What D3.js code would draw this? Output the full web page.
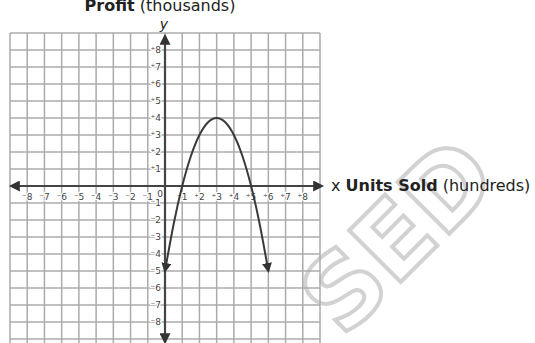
<!DOCTYPE html>
<html>
<head>
<meta charset="utf-8">
<script src="https://cdn.jsdelivr.net/npm/d3@7"></script>
<style>
  body { margin: 0; background: #fff; }
  svg { display: block; font-family: "DejaVu Sans", Verdana, sans-serif; }
</style>
</head>
<body>
<svg id="svg"></svg>
<script>
const width = 535;
const height = 343;

// grid runs -9..9 on both axes, labels -8..8
const gridRange = d3.range(-9, 10);
const xTicks = [-8, -7, -6, -5, -4, -3, -2, -1, 1, 2, 3, 4, 5, 6, 7, 8];
const yTicks = [-8, -7, -6, -5, -4, -3, -2, -1, 1, 2, 3, 4, 5, 6, 7, 8];

// points
const unitsSold = [0, 0.5, 1, 1.5, 2, 2.5, 3, 3.5, 4, 4.5, 5, 5.5, 6];
const profit = [-5, -2.25, 0, 1.75, 3, 3.75, 4, 3.75, 3, 1.75, 0, -2.25, -5];

const svg = d3.select("#svg")
    .attr("width", width)
    .attr("height", height)
    .attr("viewBox", [0, 0, width, height]);

const xScale = d3.scaleLinear().domain([-9, 9]).range([10, 320]);
const yScale = d3.scaleLinear().domain([-9, 9]).range([339, 33]);

const fmt = d => d < 0 ? "\u207B" + Math.abs(d) : "\u207A" + d;

svg.append("defs").append("marker")
    .attr("id", "arrow")
    .attr("viewBox", "0 0 10 10")
    .attr("refX", 8)
    .attr("refY", 5)
    .attr("markerWidth", 5)
    .attr("markerHeight", 5)
    .attr("orient", "auto-start-reverse")
    .append("path")
    .attr("d", "M0,0 L10,5 L0,10 z")
    .attr("fill", "#333");

// watermark
svg.append("text")
    .text("SED")
    .attr("transform", "translate(398,236) rotate(-45)")
    .attr("text-anchor", "middle")
    .attr("dominant-baseline", "central")
    .attr("font-size", "100px")
    .attr("font-weight", "bold")
    .attr("fill", "none")
    .attr("stroke", "#d2d2d2")
    .attr("stroke-width", 4);

// grid
const grid = svg.append("g")
    .attr("stroke", "#ababab")
    .attr("stroke-width", 1.5);

grid.selectAll(".vline")
    .data(gridRange)
    .enter()
    .append("line")
        .attr("class", "vline")
        .attr("x1", d => xScale(d))
        .attr("x2", d => xScale(d))
        .attr("y1", yScale(9))
        .attr("y2", height);

grid.selectAll(".hline")
    .data(gridRange)
    .enter()
    .append("line")
        .attr("class", "hline")
        .attr("x1", xScale(-9))
        .attr("x2", xScale(9))
        .attr("y1", d => yScale(d))
        .attr("y2", d => yScale(d));

// axes
svg.append("line")
    .attr("x1", xScale(-9) + 1)
    .attr("x2", xScale(9) + 2)
    .attr("y1", yScale(0))
    .attr("y2", yScale(0))
    .attr("stroke", "#444")
    .attr("stroke-width", 2.2)
    .attr("marker-start", "url(#arrow)")
    .attr("marker-end", "url(#arrow)");

svg.append("line")
    .attr("x1", xScale(0))
    .attr("x2", xScale(0))
    .attr("y1", yScale(9) + 3)
    .attr("y2", height - 1)
    .attr("stroke", "#444")
    .attr("stroke-width", 2.2)
    .attr("marker-start", "url(#arrow)")
    .attr("marker-end", "url(#arrow)");

// tick labels
svg.append("g")
    .selectAll("text")
    .data(xTicks)
    .enter()
    .append("text")
        .text(d => fmt(d))
        .attr("x", d => xScale(d))
        .attr("y", yScale(0) + 14)
        .attr("text-anchor", "middle")
        .attr("font-size", "9px")
        .attr("fill", "#444")
        .attr("stroke", "#fff")
        .attr("stroke-width", 2.5)
        .attr("paint-order", "stroke");

svg.append("g")
    .selectAll("text")
    .data(yTicks)
    .enter()
    .append("text")
        .text(d => fmt(d))
        .attr("x", xScale(0) - 4)
        .attr("y", d => yScale(d) + 3)
        .attr("text-anchor", "end")
        .attr("font-size", "9px")
        .attr("fill", "#444")
        .attr("stroke", "#fff")
        .attr("stroke-width", 2.5)
        .attr("paint-order", "stroke");

svg.append("text")
    .text("0")
    .attr("x", xScale(0) - 5)
    .attr("y", yScale(0) + 11)
    .attr("text-anchor", "middle")
    .attr("font-size", "9px")
    .attr("fill", "#444");

// the profit curve
const line = d3.line()
    .x(d => xScale(d[0]))
    .y(d => yScale(d[1]))
    .curve(d3.curveNatural);

svg.append("path")
    .datum(d3.zip(unitsSold, profit))
    .attr("d", line)
    .attr("fill", "none")
    .attr("stroke", "#3a3a3a")
    .attr("stroke-width", 2)
    .attr("marker-start", "url(#arrow)")
    .attr("marker-end", "url(#arrow)");

// axis titles
const title = svg.append("text")
    .attr("x", 160)
    .attr("y", 11)
    .attr("text-anchor", "middle")
    .attr("font-size", "16px")
    .attr("fill", "#222");
title.append("tspan").attr("font-weight", "bold").text("Profit");
title.append("tspan").text(" (thousands)");

svg.append("text")
    .text("y")
    .attr("x", xScale(0) - 1)
    .attr("y", 29)
    .attr("text-anchor", "middle")
    .attr("font-size", "14px")
    .attr("font-style", "italic")
    .attr("fill", "#222");

const xTitle = svg.append("text")
    .attr("x", 331)
    .attr("y", yScale(0) + 5)
    .attr("font-size", "16px")
    .attr("fill", "#222");
xTitle.append("tspan").text("x ");
xTitle.append("tspan").attr("font-weight", "bold").text("Units Sold");
xTitle.append("tspan").text(" (hundreds)");

svg.node();
</script>
</body>
</html>
